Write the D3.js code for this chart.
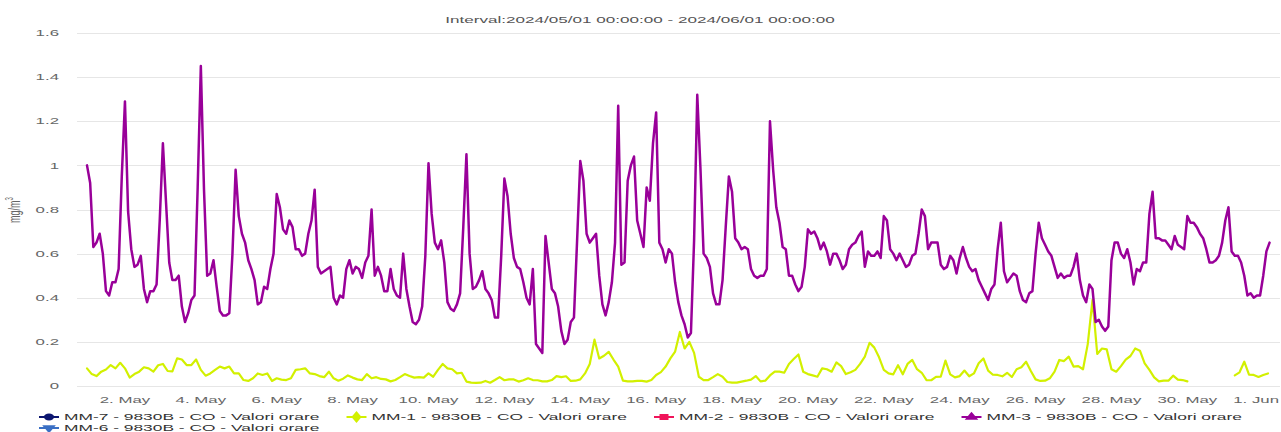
<!DOCTYPE html>
<html><head><meta charset="utf-8">
<script src="https://cdn.jsdelivr.net/npm/d3@7/dist/d3.min.js"></script>
<style>html,body{margin:0;padding:0;background:#fff;overflow:hidden}</style>
</head><body>
<svg id="chart" width="1281" height="432"></svg>
<script>
// ---------------- data ----------------
const chartTitle = "Interval:2024/05/01 00:00:00 - 2024/06/01 00:00:00";
const yAxisTitle = "mg/m";
const yTickValues = [0, 0.2, 0.4, 0.6, 0.8, 1, 1.2, 1.4, 1.6];
const yTickLabels = ["0", "0.2", "0.4", "0.6", "0.8", "1", "1.2", "1.4", "1.6"];
const xTickDates = ["2024-05-02","2024-05-04","2024-05-06","2024-05-08","2024-05-10","2024-05-12","2024-05-14","2024-05-16",
  "2024-05-18","2024-05-20","2024-05-22","2024-05-24","2024-05-26","2024-05-28","2024-05-30","2024-06-01"];
const xTickLabels = ["2. May","4. May","6. May","8. May","10. May","12. May","14. May","16. May",
  "18. May","20. May","22. May","24. May","26. May","28. May","30. May","1. Jun"];
const legendNames = ["MM-7 - 9830B - CO - Valori orare","MM-1 - 9830B - CO - Valori orare","MM-2 - 9830B - CO - Valori orare",
  "MM-3 - 9830B - CO - Valori orare","MM-6 - 9830B - CO - Valori orare"];
const legendSymbols = ["circle","diamond","square","triangle","triangle-down"];

// MM-3 (purple), one value every 2 hours from 2024-05-01 00:00
const mm3Start = "2024-05-01T00:00:00Z";
const mm3StepHours = 2;
const mm3Values = [
1.00,0.92,0.63,0.65,0.69,0.60,0.43,0.41,0.47,0.47,
0.53,0.95,1.29,0.79,0.62,0.54,0.55,0.59,0.44,0.38,
0.43,0.43,0.46,0.75,1.10,0.83,0.56,0.48,0.48,0.50,
0.36,0.29,0.33,0.39,0.41,0.90,1.45,0.89,0.50,0.51,
0.57,0.45,0.34,0.32,0.32,0.33,0.60,0.98,0.77,0.69,
0.65,0.57,0.53,0.48,0.37,0.38,0.45,0.44,0.53,0.60,
0.87,0.81,0.71,0.69,0.75,0.72,0.62,0.62,0.59,0.60,
0.69,0.75,0.89,0.54,0.51,0.52,0.53,0.54,0.40,0.37,
0.41,0.40,0.53,0.57,0.51,0.54,0.53,0.49,0.56,0.59,
0.80,0.50,0.54,0.50,0.43,0.43,0.53,0.44,0.41,0.40,
0.60,0.44,0.36,0.29,0.28,0.30,0.36,0.59,1.01,0.78,
0.65,0.62,0.66,0.56,0.38,0.35,0.34,0.37,0.42,0.72,
1.05,0.60,0.44,0.45,0.48,0.52,0.44,0.42,0.39,0.31,
0.31,0.59,0.94,0.86,0.69,0.58,0.54,0.53,0.47,0.40,
0.37,0.53,0.19,0.17,0.15,0.68,0.56,0.44,0.42,0.36,
0.25,0.19,0.21,0.29,0.31,0.66,1.02,0.93,0.69,0.65,
0.67,0.69,0.50,0.37,0.32,0.38,0.47,0.65,1.27,0.55,
0.56,0.93,1.00,1.04,0.75,0.69,0.63,0.90,0.84,1.10,
1.24,0.65,0.62,0.56,0.62,0.60,0.47,0.38,0.32,0.28,
0.22,0.24,0.66,1.32,0.99,0.60,0.58,0.54,0.42,0.37,
0.37,0.48,0.72,0.95,0.88,0.67,0.65,0.62,0.63,0.62,
0.53,0.50,0.49,0.50,0.50,0.53,1.20,0.98,0.81,0.74,
0.63,0.62,0.50,0.50,0.46,0.43,0.45,0.54,0.71,0.69,
0.70,0.67,0.62,0.65,0.61,0.55,0.60,0.60,0.57,0.53,
0.55,0.62,0.64,0.65,0.68,0.70,0.54,0.61,0.59,0.59,
0.61,0.58,0.77,0.75,0.62,0.60,0.57,0.60,0.57,0.54,
0.55,0.59,0.60,0.69,0.80,0.77,0.62,0.65,0.65,0.65,
0.55,0.53,0.54,0.59,0.57,0.51,0.58,0.63,0.58,0.54,
0.52,0.53,0.48,0.45,0.42,0.39,0.44,0.46,0.62,0.74,
0.52,0.47,0.49,0.51,0.50,0.43,0.39,0.38,0.42,0.43,
0.60,0.74,0.67,0.64,0.61,0.59,0.54,0.49,0.51,0.49,
0.50,0.50,0.54,0.60,0.48,0.41,0.38,0.46,0.44,0.29,
0.30,0.27,0.25,0.27,0.57,0.65,0.65,0.60,0.58,0.62,
0.56,0.46,0.53,0.52,0.56,0.56,0.78,0.88,0.67,0.67,
0.66,0.66,0.64,0.62,0.68,0.64,0.63,0.62,0.77,0.74,
0.74,0.72,0.69,0.67,0.62,0.56,0.56,0.57,0.59,0.65,
0.75,0.81,0.61,0.59,0.59,0.56,0.50,0.41,0.42,0.40,
0.41,0.41,0.50,0.61,0.65
];

// MM-1 (yellow-green), one value every 3 hours from 2024-05-01 00:00 (null = missing)
const mm1Start = "2024-05-01T00:00:00Z";
const mm1StepHours = 3;
const mm1Values = [
0.08,0.054,0.045,0.065,0.075,0.095,0.08,0.105,0.08,0.038,
0.054,0.065,0.085,0.08,0.065,0.094,0.10,0.068,0.066,0.125,
0.12,0.095,0.095,0.12,0.073,0.047,0.057,0.073,0.088,0.08,
0.088,0.057,0.057,0.027,0.023,0.035,0.057,0.05,0.057,0.023,
0.035,0.029,0.027,0.035,0.073,0.076,0.08,0.057,0.054,0.045,
0.04,0.065,0.035,0.024,0.033,0.048,0.038,0.03,0.027,0.054,
0.035,0.04,0.032,0.03,0.021,0.027,0.04,0.054,0.045,0.038,
0.04,0.038,0.057,0.042,0.073,0.10,0.08,0.076,0.057,0.06,
0.02,0.015,0.014,0.015,0.023,0.015,0.027,0.04,0.026,0.03,
0.03,0.02,0.026,0.035,0.027,0.026,0.021,0.021,0.027,0.045,
0.04,0.044,0.023,0.024,0.03,0.057,0.10,0.21,0.125,0.137,
0.155,0.12,0.088,0.024,0.021,0.021,0.023,0.023,0.02,0.027,
0.05,0.063,0.088,0.125,0.156,0.245,0.17,0.2,0.15,0.042,
0.027,0.027,0.04,0.054,0.042,0.018,0.015,0.015,0.02,0.024,
0.029,0.045,0.021,0.024,0.048,0.065,0.065,0.06,0.10,0.122,
0.143,0.065,0.054,0.048,0.042,0.08,0.076,0.065,0.107,0.09,
0.054,0.062,0.073,0.10,0.133,0.196,0.174,0.13,0.073,0.057,
0.053,0.094,0.053,0.10,0.118,0.076,0.06,0.027,0.026,0.041,
0.042,0.115,0.053,0.039,0.045,0.07,0.044,0.057,0.103,0.125,
0.07,0.051,0.05,0.044,0.06,0.041,0.076,0.085,0.11,0.068,
0.03,0.023,0.024,0.035,0.065,0.118,0.113,0.133,0.088,0.09,
0.076,0.19,0.39,0.145,0.17,0.166,0.076,0.065,0.09,0.12,
0.136,0.17,0.16,0.103,0.073,0.039,0.021,0.024,0.024,0.047,
0.029,0.027,0.021,null,null,null,null,null,null,null,
null,null,0.048,0.062,0.11,0.051,0.05,0.041,0.05,0.057
];

// ---------------- styles / layout ----------------
const colors = { mm7: "#0c1670", mm1: "#d2f000", mm2: "#f0145a", mm3: "#990099", mm6: "#3a6fc4" };
const legendColors = [colors.mm7, colors.mm1, colors.mm2, colors.mm3, colors.mm6];
const FONT = "'Liberation Sans', Arial, Helvetica, sans-serif";
const SX = 1.87;          // horizontal stretch of the text in the reference
const plotLeft = 77, plotRight = 1280, plotTop = 33, plotBottom = 386;
const HOUR = 3600e3;
const may1 = Date.UTC(2024, 4, 1, 0);

const svg = d3.select("#chart");

const x = d3.scaleUtc()
  .domain([new Date(may1 - 6.33 * HOUR), new Date(may1 + 754.6 * HOUR)])
  .range([plotLeft, plotRight]);
const y = d3.scaleLinear().domain([0, 1.6]).range([plotBottom, plotTop]);

function stretchedText(g, tx, ty, str, anchor, size, color, sx) {
  return g.append("text")
    .attr("transform", `translate(${tx},${ty}) scale(${sx || SX},1)`)
    .attr("text-anchor", anchor)
    .attr("font-family", FONT)
    .attr("font-size", size)
    .attr("fill", color)
    .text(str);
}

// grid lines
const grid = svg.append("g");
grid.selectAll("line").data(yTickValues).join("line")
  .attr("x1", plotLeft).attr("x2", plotRight)
  .attr("y1", d => Math.round(y(d)) + 0.5).attr("y2", d => Math.round(y(d)) + 0.5)
  .attr("stroke", "#e6e6e6").attr("stroke-width", 1);

// y axis labels
const yAx = svg.append("g");
yTickValues.forEach((v, i) => stretchedText(yAx, 59, y(v) + 3.2, yTickLabels[i], "end", 9, "#666666"));

// y axis title
const yt = svg.append("text")
  .attr("transform", `translate(20,210) scale(${SX},1) rotate(-90)`)
  .attr("text-anchor", "middle")
  .attr("font-family", FONT).attr("font-size", 9).attr("fill", "#666666");
yt.append("tspan").text(yAxisTitle);
yt.append("tspan").attr("font-size", 6).attr("dy", -3.5).text("3");

// x axis labels (last one is kept inside the chart like Highcharts does)
const xAx = svg.append("g");
xTickDates.forEach((d, i) => {
  const t = stretchedText(xAx, x(new Date(d + "T00:00:00Z")), 403, xTickLabels[i], "middle", 9, "#666666");
  const bb = t.node().getBoundingClientRect();
  if (bb.right > 1279) {
    t.attr("transform", `translate(1279,403) scale(${SX},1)`).attr("text-anchor", "end");
  }
});

// title
stretchedText(svg, 640, 23, chartTitle, "middle", 9, "#555555", 1.9);

// series
const mk = (start, step, vals) => vals.map((v, i) => ({ t: new Date(new Date(start).getTime() + i * step * HOUR), v }));
const mm1 = mk(mm1Start, mm1StepHours, mm1Values);
const mm3 = mk(mm3Start, mm3StepHours, mm3Values);
const line = d3.line().defined(d => d.v != null).x(d => x(d.t)).y(d => y(d.v)).curve(d3.curveLinear);

svg.append("path").datum(mm1).attr("d", line)
  .attr("fill", "none").attr("stroke", colors.mm1).attr("stroke-width", 2.2)
  .attr("stroke-linejoin", "round").attr("stroke-linecap", "round");
svg.append("path").datum(mm3).attr("d", line)
  .attr("fill", "none").attr("stroke", colors.mm3).attr("stroke-width", 2.5)
  .attr("stroke-linejoin", "round").attr("stroke-linecap", "round");

// legend
const leg = svg.append("g");
const symbolTypes = { "circle": d3.symbolCircle, "diamond": d3.symbolDiamond, "square": d3.symbolSquare,
  "triangle": d3.symbolTriangle, "triangle-down": d3.symbolTriangle };
legendNames.forEach((name, i) => {
  const row = i < 4 ? 0 : 1, col = i % 4;
  const x0 = 39 + col * 307.5;
  const cy = row === 0 ? 417 : 428;
  const c = legendColors[i];
  leg.append("line").attr("x1", x0).attr("x2", x0 + 20).attr("y1", cy).attr("y2", cy)
    .attr("stroke", c).attr("stroke-width", 2);
  const rot = legendSymbols[i] === "triangle-down" ? " rotate(180)" : "";
  leg.append("path")
    .attr("d", d3.symbol().type(symbolTypes[legendSymbols[i]]).size(legendSymbols[i] === "diamond" ? 40 : 36)())
    .attr("transform", `translate(${x0 + 10},${cy}) scale(1.5,1)${rot}`)
    .attr("fill", c);
  stretchedText(leg, x0 + 25, cy + 3.3, name, "start", 9, "#333333", 1.93);
});
</script>
</body></html>
